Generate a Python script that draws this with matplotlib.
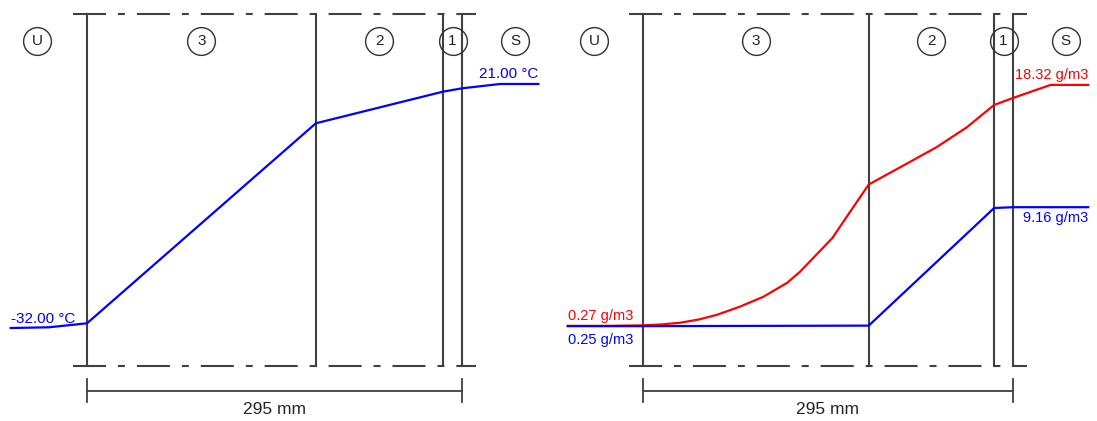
import numpy as np
import matplotlib.pyplot as plt
from matplotlib.transforms import blended_transform_factory

plt.rcParams['font.family'] = ['Liberation Sans', 'DejaVu Sans']
plt.rcParams['lines.scale_dashes'] = False

# layers from outside (U) to inside (S), thickness in mm
layer_names = ['3', '2', '1']
layer_mm = [180, 100, 15]

# temperature profile (x = mm from outer face)
temp_x = [-60, -30, 0, 180, 280, 295, 325, 355]
temp_c = [-32.0, -31.85, -30.98, 12.46, 19.33, 20.06, 21.0, 21.0]

# saturation vapour density (red) and actual vapour density (blue), g/m3
sat_x = [-60, -30, 0, 15, 30, 45, 59, 77, 96, 115, 125, 151, 165, 180, 207, 234, 258, 280, 295, 325, 355]
sat_c = [0.27, 0.27, 0.31, 0.38, 0.51, 0.76, 1.1, 1.7, 2.45, 3.5, 4.31, 6.85, 8.8, 10.86,
         12.25, 13.65, 15.13, 16.82, 17.34, 18.32, 18.32]
vap_x = [-60, -30, 0, 180, 280, 295, 325, 355]
vap_c = [0.25, 0.25, 0.25, 0.29, 9.10, 9.16, 9.16, 9.16]

grey = '#404040'
blue = '#0000ff'
red = '#ff0000'
H = 421.0


def frac(px):
    return 1 - px / H


def wall(ax, xlim, ylim):
    ax.set_xlim(xlim)
    ax.set_ylim(ylim)
    ax.axis('off')
    tr = blended_transform_factory(ax.transData, ax.transAxes)
    edges = np.concatenate([[0], np.cumsum(layer_mm)])
    total = edges[-1]
    top, bot = frac(14), frac(366)
    for e in edges:
        ax.plot([e, e], [bot, top], transform=tr, color=grey, lw=1.5)
    for y in (top, bot):
        ax.plot([-11, total + 11], [y, y], transform=tr, color=grey, lw=1.5,
                dashes=(23.8, 8.6, 5.0, 8.6))

    # circled labels
    centers = (edges[:-1] + edges[1:]) / 2
    xs = [-39] + list(centers) + [337]
    names = ['U'] + layer_names + ['S']
    yc = frac(41)
    for x, n in zip(xs, names):
        ax.plot([x], [yc], transform=tr, marker='o', ms=20, mfc='none',
                mec='#303030', mew=1.0)
        ax.text(x, yc, n, transform=tr, ha='center', va='center',
                fontsize=11, color='#222222')

    # dimension line
    yd = frac(391)
    ax.plot([0, total], [yd, yd], transform=tr, color=grey, lw=1.3)
    for e in (0, total):
        ax.plot([e, e], [frac(379), frac(402)], transform=tr, color=grey, lw=1.3)
    ax.text(total / 2, frac(410), f"{total} mm", transform=tr, ha='center',
            va='center', fontsize=12.5, color='#222222')


fig = plt.figure(figsize=(10.97, 4.21), dpi=100)

# left: temperature
ax1 = fig.add_axes([0, 0, 0.5, 1])
wall(ax1, (-68.44, 363.0), (-52.2, 39.24))
ax1.plot(temp_x, temp_c, color=blue, lw=1.6)
ax1.annotate(f"{temp_c[0]:.2f} °C", (temp_x[0], temp_c[0]), xytext=(0, 3.6),
             textcoords='offset points', ha='left', va='baseline', color=blue, fontsize=11)
ax1.annotate(f"{temp_c[-1]:.2f} °C", (temp_x[-1], temp_c[-1]), xytext=(0, 4.3),
             textcoords='offset points', ha='right', va='baseline', color=blue, fontsize=11)

# right: vapour density
ax2 = fig.add_axes([0.5, 0, 0.5, 1])
wall(ax2, (-75.35, 362.0), (-6.854, 24.68))
ax2.plot(sat_x, sat_c, color=red, lw=1.6)
ax2.plot(vap_x, vap_c, color=blue, lw=1.6)
ax2.annotate(f"{sat_c[0]:.2f} g/m3", (sat_x[0], sat_c[0]), xytext=(0, 4.3),
             textcoords='offset points', ha='left', va='baseline', color=red, fontsize=10.5)
ax2.annotate(f"{vap_c[0]:.2f} g/m3", (vap_x[0], vap_c[0]), xytext=(0, -12.5),
             textcoords='offset points', ha='left', va='baseline', color=blue, fontsize=10.5)
ax2.annotate(f"{sat_c[-1]:.2f} g/m3", (sat_x[-1], sat_c[-1]), xytext=(0, 4.3),
             textcoords='offset points', ha='right', va='baseline', color=red, fontsize=10.5)
ax2.annotate(f"{vap_c[-1]:.2f} g/m3", (vap_x[-1], vap_c[-1]), xytext=(0, -11.0),
             textcoords='offset points', ha='right', va='baseline', color=blue, fontsize=10.5)

fig.savefig('out.png', dpi=100)
